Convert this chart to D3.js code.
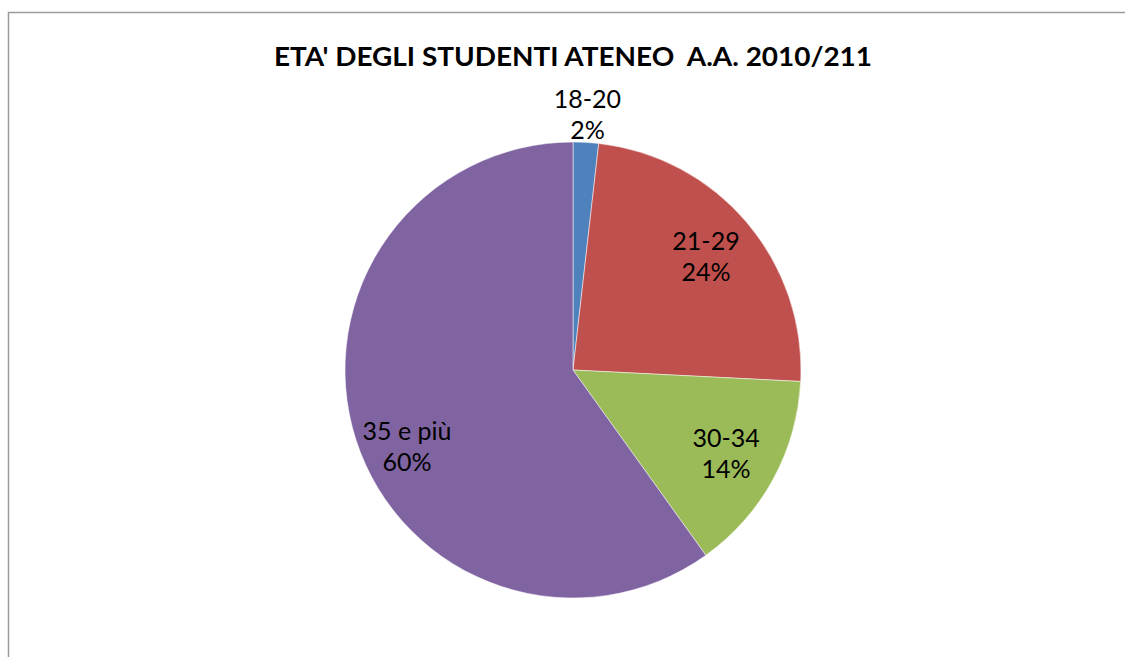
<!DOCTYPE html>
<html>
<head>
<meta charset="utf-8">
<script src="https://cdn.jsdelivr.net/npm/d3@7"></script>
<style>
  body { margin: 0; background: #fff; }
  svg { display: block; }
  text { font-family: Lato, "Open Sans", sans-serif; fill: #000; }
</style>
</head>
<body>
<div id="chart"></div>
<script>
// slice data
const categories = ["18-20", "21-29", "30-34", "35 e più"];
const shares = [1.8, 24.0, 14.3, 59.9];
const pctLabels = ["2%", "24%", "14%", "60%"];
const colors = ["#4f81bd", "#c0504d", "#9bbb59", "#8064a2"];

const width = 1125, height = 657;
const cx = 573, cy = 370, radius = 228;

// the big slice label sits a bit lower than its centroid in the original
const labelNudge = { "35 e più": [0, 24] };

const svg = d3.select("#chart").append("svg")
  .attr("width", width)
  .attr("height", height);

// chart frame (runs off the right/bottom edge in the reference)
svg.append("rect")
  .attr("x", 8.5).attr("y", 12.5)
  .attr("width", width + 20).attr("height", height + 20)
  .attr("fill", "#fff")
  .attr("stroke", "#9a9a9a")
  .attr("stroke-width", 1.5);

svg.append("text")
  .attr("x", 573).attr("y", 66)
  .attr("text-anchor", "middle")
  .attr("font-size", 27)
  .attr("font-weight", "bold")
  .attr("textLength", 598)
  .attr("lengthAdjust", "spacingAndGlyphs")
  .style("white-space", "pre")
  .text("ETA' DEGLI STUDENTI ATENEO  A.A. 2010/211");

const data = categories.map((c, i) => ({ cat: c, value: shares[i], pct: pctLabels[i], color: colors[i] }));

const pie = d3.pie().sort(null).value(d => d.value);
const arcs = pie(data);
const arc = d3.arc().innerRadius(0).outerRadius(radius);

const g = svg.append("g").attr("transform", `translate(${cx},${cy})`);

g.selectAll("path")
  .data(arcs)
  .enter().append("path")
  .attr("d", arc)
  .attr("fill", d => d.data.color)
  .attr("stroke", "#fff")
  .attr("stroke-opacity", 0.5)
  .attr("stroke-width", 1);

// small slices get their label outside the pie
const inArc = d3.arc().innerRadius(0).outerRadius(radius * 1.53);
const outArc = d3.arc().innerRadius(radius * 1.12).outerRadius(radius * 1.12);

const labels = g.selectAll("g.lab")
  .data(arcs)
  .enter().append("g")
  .attr("class", "lab")
  .attr("transform", d => {
    const small = (d.endAngle - d.startAngle) < 0.2;
    const p = small ? outArc.centroid(d) : inArc.centroid(d);
    const n = labelNudge[d.data.cat] || [0, 0];
    return `translate(${p[0] + n[0]},${p[1] + n[1]})`;
  });

labels.append("text")
  .attr("text-anchor", "middle")
  .attr("font-size", 25)
  .attr("y", -7)
  .text(d => d.data.cat);

labels.append("text")
  .attr("text-anchor", "middle")
  .attr("font-size", 25)
  .attr("y", 24)
  .text(d => d.data.pct);
</script>
</body>
</html>
